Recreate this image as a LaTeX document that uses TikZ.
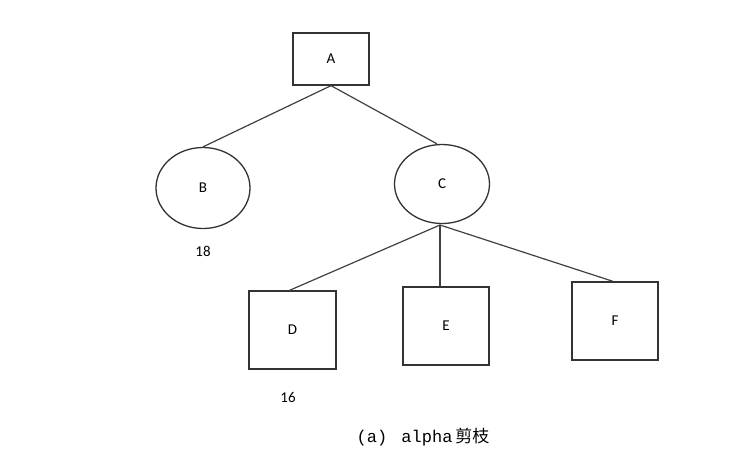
\documentclass[tikz,border=0pt]{standalone}
\usepackage{fontspec}
\setmainfont{Carlito}
\newfontfamily\cjk{Noto Sans CJK SC}
\newfontfamily\capmono{Liberation Mono}
\usetikzlibrary{shapes.geometric}
\begin{document}
\begin{tikzpicture}[x=1pt,y=-1pt,
  edge/.style={draw=black!75, line width=1.2pt},
  boxnode/.style={draw=black!80, line width=1.3pt, rectangle, inner sep=0pt, font=\fontsize{15}{17}\selectfont},
  ovalnode/.style={draw=black!80, line width=1.3pt, ellipse, inner sep=0pt, font=\fontsize{15}{17}\selectfont},
  lbl/.style={font=\fontsize{15}{17}\selectfont, inner sep=0pt}]
\useasboundingbox (0,0) rectangle (745,459);
\node[boxnode, minimum width=76pt, minimum height=52pt] (A) at (331,59) {A};
\node[ovalnode, minimum width=94pt, minimum height=81pt] (B) at (203,188) {B};
\node[ovalnode, minimum width=95pt, minimum height=79pt] (C) at (442,184) {C};
\node[boxnode, minimum width=87pt, minimum height=78pt] (D) at (292.5,330) {D\hspace{8pt}};
\node[boxnode, minimum width=86pt, minimum height=78pt] (E) at (446,326) {E};
\node[boxnode, minimum width=86pt, minimum height=78pt] (F) at (615,321) {F};
\node[lbl] (nB) at (203,251) {18};
\node[lbl] (nD) at (288,397) {16};
\node[inner sep=0pt, font=\fontsize{17}{19}\selectfont] (cap) at (423,437) {\capmono (a)\hspace{4pt} alpha\,{\cjk 剪枝}};
\coordinate (Cb) at (440,225);
\draw[edge] (A.south) -- (B.north);
\draw[edge] (A.south) -- ([xshift=-5pt]C.north);
\draw[edge] (Cb) -- ([xshift=-3pt]D.north);
\draw[edge] (Cb) -| (E.north -| Cb);
\draw[edge] (Cb) -- ([xshift=-2pt]F.north);
\end{tikzpicture}
\end{document}
